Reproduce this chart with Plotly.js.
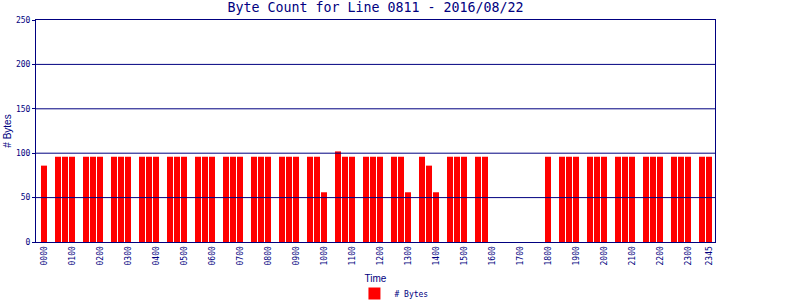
<!DOCTYPE html>
<html>
<head>
<meta charset="utf-8">
<script src="https://cdn.plot.ly/plotly-3.0.1.min.js"></script>
<style>html,body{margin:0;padding:0;background:#fff;}#chart{width:800px;height:300px;}</style>
</head>
<body>
<div id="chart"></div>
<script>
// 15-minute time slots
const times = [
  "0000","0015","0030","0045","0100","0115","0130","0145",
  "0200","0215","0230","0245","0300","0315","0330","0345",
  "0400","0415","0430","0445","0500","0515","0530","0545",
  "0600","0615","0630","0645","0700","0715","0730","0745",
  "0800","0815","0830","0845","0900","0915","0930","0945",
  "1000","1015","1030","1045","1100","1115","1130","1145",
  "1200","1215","1230","1245","1300","1315","1330","1345",
  "1400","1415","1430","1445","1500","1515","1530","1545",
  "1600","1615","1630","1645","1700","1715","1730","1745",
  "1800","1815","1830","1845","1900","1915","1930","1945",
  "2000","2015","2030","2045","2100","2115","2130","2145",
  "2200","2215","2230","2245","2300","2315","2330","2345"
];
// # Bytes per slot (null = no data)
const bytes = [
  86,null,96,96, 96,null,96,96,
  96,null,96,96, 96,null,96,96,
  96,null,96,96, 96,null,96,96,
  96,null,96,96, 96,null,96,96,
  96,null,96,96, 96,null,96,96,
  56,null,102,96, 96,null,96,96,
  96,null,96,96, 56,null,96,86,
  56,null,96,96, 96,null,96,96,
  null,null,null,null, null,null,null,null,
  96,null,96,96, 96,null,96,96,
  96,null,96,96, 96,null,96,96,
  96,null,96,96, 96,null,96,96
];
const tickLabels = [
  "0000","0100","0200","0300","0400","0500","0600","0700","0800","0900",
  "1000","1100","1200","1300","1400","1500","1600","1700","1800","1900",
  "2000","2100","2200","2300","2345"
];
const yTicks = [0, 50, 100, 150, 200, 250];

const navy = "#000080";
const mono = "DejaVu Sans Mono, monospace";
const sans = "Liberation Sans, Arial, sans-serif";

const trace = {
  type: "bar",
  x: times,
  y: bytes,
  name: "# Bytes",
  marker: {color: "#ff0000", line: {width: 0}},
  hoverinfo: "x+y"
};

// inner horizontal grid lines drawn above the bars, as in the reference
const gridShapes = yTicks.filter(v => v > 0 && v < 250).map(v => ({
  type: "line", xref: "paper", yref: "y",
  x0: 0, x1: 1, y0: v, y1: v,
  line: {color: navy, width: 1},
  layer: "above"
}));

const layout = {
  width: 800,
  height: 300,
  margin: {l: 36, r: 85, t: 20, b: 58, pad: 0, autoexpand: false},
  paper_bgcolor: "#ffffff",
  plot_bgcolor: "#ffffff",
  bargap: 0.14,
  showlegend: true,
  shapes: gridShapes,
  title: {
    text: "Byte Count for Line 0811 - 2016/08/22",
    font: {family: mono, size: 13.3, color: navy},
    x: 0.5, xref: "paper", xanchor: "center",
    y: 0.975, yref: "container", yanchor: "middle"
  },
  xaxis: {
    type: "category",
    range: [-1.14, 95.86],
    tickmode: "array",
    tickvals: tickLabels,
    ticktext: tickLabels,
    tickangle: -90,
    ticks: "",
    tickfont: {family: mono, size: 8, color: navy},
    showgrid: false,
    showline: true,
    linecolor: navy,
    linewidth: 1,
    mirror: true,
    automargin: false,
    layer: "above traces",
    title: {text: "Time", font: {family: sans, size: 10, color: navy}, standoff: 10}
  },
  yaxis: {
    range: [0, 250],
    tickvals: yTicks,
    ticks: "outside",
    ticklen: 3,
    tickcolor: navy,
    tickfont: {family: mono, size: 8, color: navy},
    showgrid: false,
    zeroline: false,
    showline: true,
    linecolor: navy,
    linewidth: 1,
    mirror: true,
    automargin: false,
    layer: "above traces",
    title: {text: "# Bytes", font: {family: sans, size: 10, color: navy}, standoff: 1.5}
  },
  legend: {
    orientation: "h",
    x: 0.469, xanchor: "left",
    y: -0.232, yanchor: "middle",
    font: {family: mono, size: 8, color: navy},
    bgcolor: "rgba(0,0,0,0)",
    borderwidth: 0
  }
};

Plotly.newPlot("chart", [trace], layout, {displayModeBar: false, staticPlot: true});
</script>
</body>
</html>
